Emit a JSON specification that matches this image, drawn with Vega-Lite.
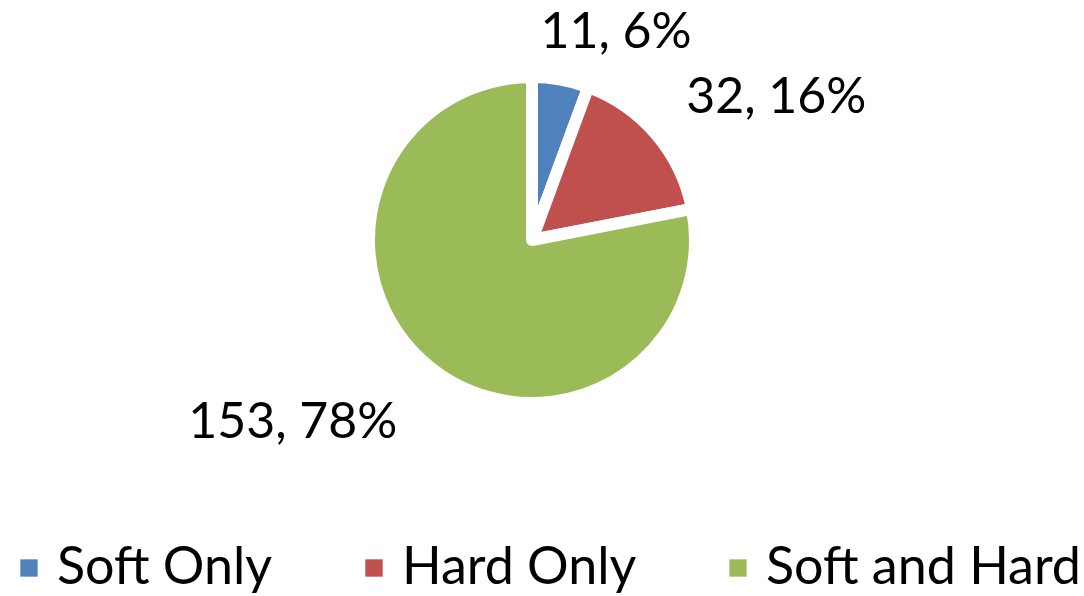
{
  "$schema": "https://vega.github.io/schema/vega-lite/v6.json",
  "autosize": "none",
  "width": 1064,
  "height": 480,
  "padding": {"left": 0, "top": 0, "right": 20, "bottom": 116},
  "background": "white",
  "config": {"view": {"stroke": null}, "font": "Lato"},
  "data": {
    "values": [
      {"cat": "Soft Only", "count": 11, "label": "11, 6%", "rank": 1},
      {"cat": "Hard Only", "count": 32, "label": "32, 16%", "rank": 2},
      {"cat": "Soft and Hard", "count": 153, "label": "153, 78%", "rank": 3}
    ]
  },
  "encoding": {
    "theta": {"field": "count", "type": "quantitative", "stack": true},
    "order": {"field": "rank", "type": "ordinal"}
  },
  "layer": [
    {
      "mark": {"type": "arc", "outerRadius": 163, "stroke": "white", "strokeWidth": 12, "strokeJoin": "round"},
      "encoding": {
        "color": {
          "field": "cat", "type": "nominal",
          "scale": {"domain": ["Soft Only", "Hard Only", "Soft and Hard"], "range": ["#4F81BD", "#C0504D", "#9BBB59"]},
          "legend": {
            "title": null, "orient": "none", "direction": "horizontal",
            "legendX": 3, "legendY": 542, "padding": 0,
            "symbolType": "square", "symbolSize": 300, "symbolStrokeWidth": 0,
            "labelFont": "Lato", "labelFontSize": 52, "labelColor": "#000000",
            "labelOffset": 2, "labelLimit": 1000, "columnPadding": 75
          }
        }
      }
    },
    {
      "mark": {"type": "text", "radius": 200, "dx": 49, "dy": -10, "font": "Lato", "fontSize": 50, "color": "#000000", "align": "center", "baseline": "middle"},
      "encoding": {"text": {"condition": {"test": "datum.cat === 'Soft Only'", "field": "label"}, "value": ""}}
    },
    {
      "mark": {"type": "text", "radius": 200, "dx": 92, "dy": -12, "font": "Lato", "fontSize": 50, "color": "#000000", "align": "center", "baseline": "middle"},
      "encoding": {"text": {"condition": {"test": "datum.cat === 'Hard Only'", "field": "label"}, "value": ""}}
    },
    {
      "mark": {"type": "text", "radius": 200, "dx": -112, "dy": 29, "font": "Lato", "fontSize": 50, "color": "#000000", "align": "center", "baseline": "middle"},
      "encoding": {"text": {"condition": {"test": "datum.cat === 'Soft and Hard'", "field": "label"}, "value": ""}}
    }
  ]
}
